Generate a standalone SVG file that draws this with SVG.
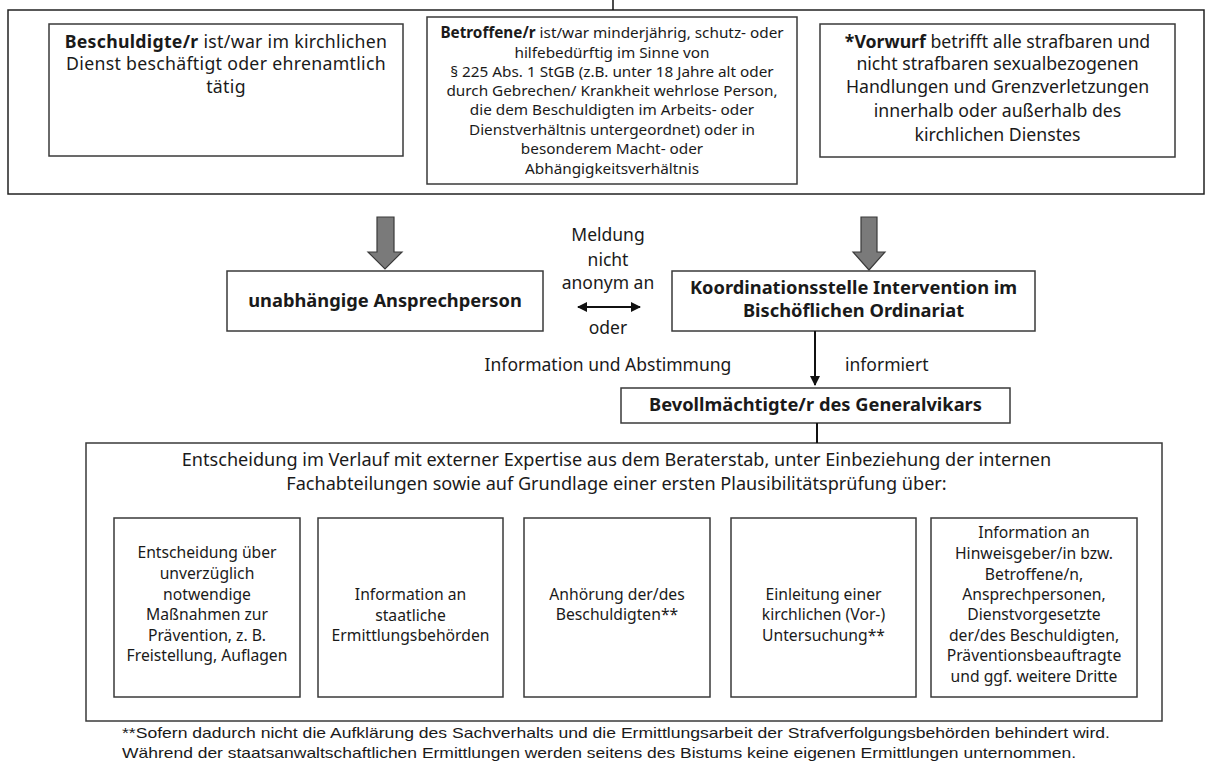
<svg xmlns="http://www.w3.org/2000/svg" width="1206" height="761" viewBox="0 0 1206 761">
<style>
.box{fill:#fff;stroke:#3a3a3a;stroke-width:1.5}
.t{font-family:"Noto Sans","Open Sans","Liberation Sans",sans-serif;fill:#1a1a1a;text-anchor:middle}
.b{font-weight:bold}
.f1{font-size:17.7px;letter-spacing:0.3px}
.f3{font-size:17.7px}
.fb{font-size:18.3px;font-weight:bold}
.mid{font-size:17.5px}
.hd{font-size:18.1px}
.sm{font-size:15.3px}
.bx{font-size:15.7px}
.foot{font-family:"Liberation Sans",Arial,sans-serif;font-size:15px;fill:#1a1a1a}
.gray{fill:#7a7a7a;stroke:#3a3a3a;stroke-width:1.2}
.line{stroke:#111;stroke-width:2;fill:none}
</style>
<defs>
<marker id="ah" viewBox="0 0 10 10" refX="9" refY="5" markerWidth="5" markerHeight="5" orient="auto-start-reverse" markerUnits="strokeWidth">
<path d="M0,0 L10,5 L0,10 z" fill="#111"/>
</marker>
</defs>
<rect width="1206" height="761" fill="#fff"/>

<g id="top-frame"><rect class="box" x="8" y="10" width="1196" height="184" style="stroke:#222"/></g>

<g id="n-beschuldigte">
<rect class="box" x="49" y="24" width="354" height="132"/>
<text class="t f1" x="226" y="48"><tspan class="b">Beschuldigte/r</tspan> ist/war im kirchlichen</text>
<text class="t f1" x="226" y="70">Dienst beschäftigt oder ehrenamtlich</text>
<text class="t f1" x="226" y="93">tätig</text>
</g>

<g id="n-betroffene">
<rect class="box" x="427" y="17" width="370" height="167"/>
<text class="t sm" x="612" y="38"><tspan class="b">Betroffene/r</tspan> ist/war minderjährig, schutz- oder</text>
<text class="t sm" x="612" y="58">hilfebedürftig im Sinne von</text>
<text class="t sm" x="612" y="77">§ 225 Abs. 1 StGB (z.B. unter 18 Jahre alt oder</text>
<text class="t sm" x="612" y="96">durch Gebrechen/ Krankheit wehrlose Person,</text>
<text class="t sm" x="612" y="115">die dem Beschuldigten im Arbeits- oder</text>
<text class="t sm" x="612" y="135">Dienstverhältnis untergeordnet) oder in</text>
<text class="t sm" x="612" y="154">besonderem Macht- oder</text>
<text class="t sm" x="612" y="174">Abhängigkeitsverhältnis</text>
</g>

<g id="n-vorwurf">
<rect class="box" x="820" y="24" width="355" height="133"/>
<text class="t f3" x="997.5" y="48"><tspan class="b">*Vorwurf</tspan> betrifft alle strafbaren und</text>
<text class="t f3" x="997.5" y="70">nicht strafbaren sexualbezogenen</text>
<text class="t f3" x="997.5" y="93">Handlungen und Grenzverletzungen</text>
<text class="t f3" x="997.5" y="117">innerhalb oder außerhalb des</text>
<text class="t f3" x="997.5" y="141">kirchlichen Dienstes</text>
</g>

<g id="n-ansprechperson">
<rect class="box" x="227" y="271" width="316" height="60"/>
<text class="t fb" x="385" y="307">unabhängige Ansprechperson</text>
</g>

<g id="n-koordination">
<rect class="box" x="672" y="271" width="363" height="60"/>
<text class="t fb" x="853.5" y="294">Koordinationsstelle Intervention im</text>
<text class="t fb" x="853.5" y="317">Bischöflichen Ordinariat</text>
</g>

<g id="n-bevollmaechtigte">
<rect class="box" x="621" y="388" width="389" height="35"/>
<text class="t fb" x="815.5" y="411">Bevollmächtigte/r des Generalvikars</text>
</g>

<g id="n-entscheidung">
<rect class="box" x="86" y="443" width="1076" height="278"/>
<text class="t hd" x="616.5" y="466">Entscheidung im Verlauf mit externer Expertise aus dem Beraterstab, unter Einbeziehung der internen</text>
<text class="t hd" x="616.5" y="490">Fachabteilungen sowie auf Grundlage einer ersten Plausibilitätsprüfung über:</text>
</g>

<g id="n-massnahmen">
<rect class="box" x="114" y="518" width="186" height="179"/>
<text class="t bx" x="207" y="558">Entscheidung über</text>
<text class="t bx" x="207" y="579">unverzüglich</text>
<text class="t bx" x="207" y="600">notwendige</text>
<text class="t bx" x="207" y="620">Maßnahmen zur</text>
<text class="t bx" x="207" y="641">Prävention, z. B.</text>
<text class="t bx" x="207" y="661">Freistellung, Auflagen</text>
</g>

<g id="n-behoerden">
<rect class="box" x="318" y="518" width="185" height="179"/>
<text class="t bx" x="410.5" y="600">Information an</text>
<text class="t bx" x="410.5" y="621">staatliche</text>
<text class="t bx" x="410.5" y="641">Ermittlungsbehörden</text>
</g>

<g id="n-anhoerung">
<rect class="box" x="524" y="518" width="186" height="179"/>
<text class="t bx" x="617" y="600">Anhörung der/des</text>
<text class="t bx" x="617" y="620">Beschuldigten**</text>
</g>

<g id="n-untersuchung">
<rect class="box" x="731" y="518" width="185" height="179"/>
<text class="t bx" x="823.5" y="600">Einleitung einer</text>
<text class="t bx" x="823.5" y="620">kirchlichen (Vor-)</text>
<text class="t bx" x="823.5" y="641">Untersuchung**</text>
</g>

<g id="n-information">
<rect class="box" x="931" y="518" width="206" height="179"/>
<text class="t bx" x="1034" y="538">Information an</text>
<text class="t bx" x="1034" y="559">Hinweisgeber/in bzw.</text>
<text class="t bx" x="1034" y="580">Betroffene/n,</text>
<text class="t bx" x="1034" y="600">Ansprechpersonen,</text>
<text class="t bx" x="1034" y="620">Dienstvorgesetzte</text>
<text class="t bx" x="1034" y="641">der/des Beschuldigten,</text>
<text class="t bx" x="1034" y="661">Präventionsbeauftragte</text>
<text class="t bx" x="1034" y="682">und ggf. weitere Dritte</text>
</g>

<g id="connectors">
<line class="line" x1="613" y1="0" x2="613" y2="10" style="stroke-width:1.5"/>
<polygon class="gray" points="377,217 394,217 394,252 402,252 385,269 368,252 377,252"/>
<polygon class="gray" points="861,217 877,217 877,252 885,252 869,270 853,252 861,252"/>
<line class="line" x1="578" y1="307" x2="640" y2="307" marker-start="url(#ah)" marker-end="url(#ah)"/>
<line class="line" x1="815" y1="331" x2="815" y2="385" marker-end="url(#ah)"/>
<line class="line" x1="817" y1="423" x2="817" y2="443"/>
</g>

<g id="labels">
<text class="t mid" x="608" y="241">Meldung</text>
<text class="t mid" x="608" y="266">nicht</text>
<text class="t mid" x="608" y="289">anonym an</text>
<text class="t mid" x="608" y="334">oder</text>
<text class="t mid" x="608" y="371">Information und Abstimmung</text>
<text class="t mid" x="845" y="371" style="text-anchor:start">informiert</text>
</g>

<g id="footnote">
<text class="foot" x="122" y="738" textLength="988" lengthAdjust="spacingAndGlyphs">**Sofern dadurch nicht die Aufklärung des Sachverhalts und die Ermittlungsarbeit der Strafverfolgungsbehörden behindert wird.</text>
<text class="foot" x="122" y="758" textLength="954" lengthAdjust="spacingAndGlyphs">Während der staatsanwaltschaftlichen Ermittlungen werden seitens des Bistums keine eigenen Ermittlungen unternommen.</text>
</g>
</svg>
